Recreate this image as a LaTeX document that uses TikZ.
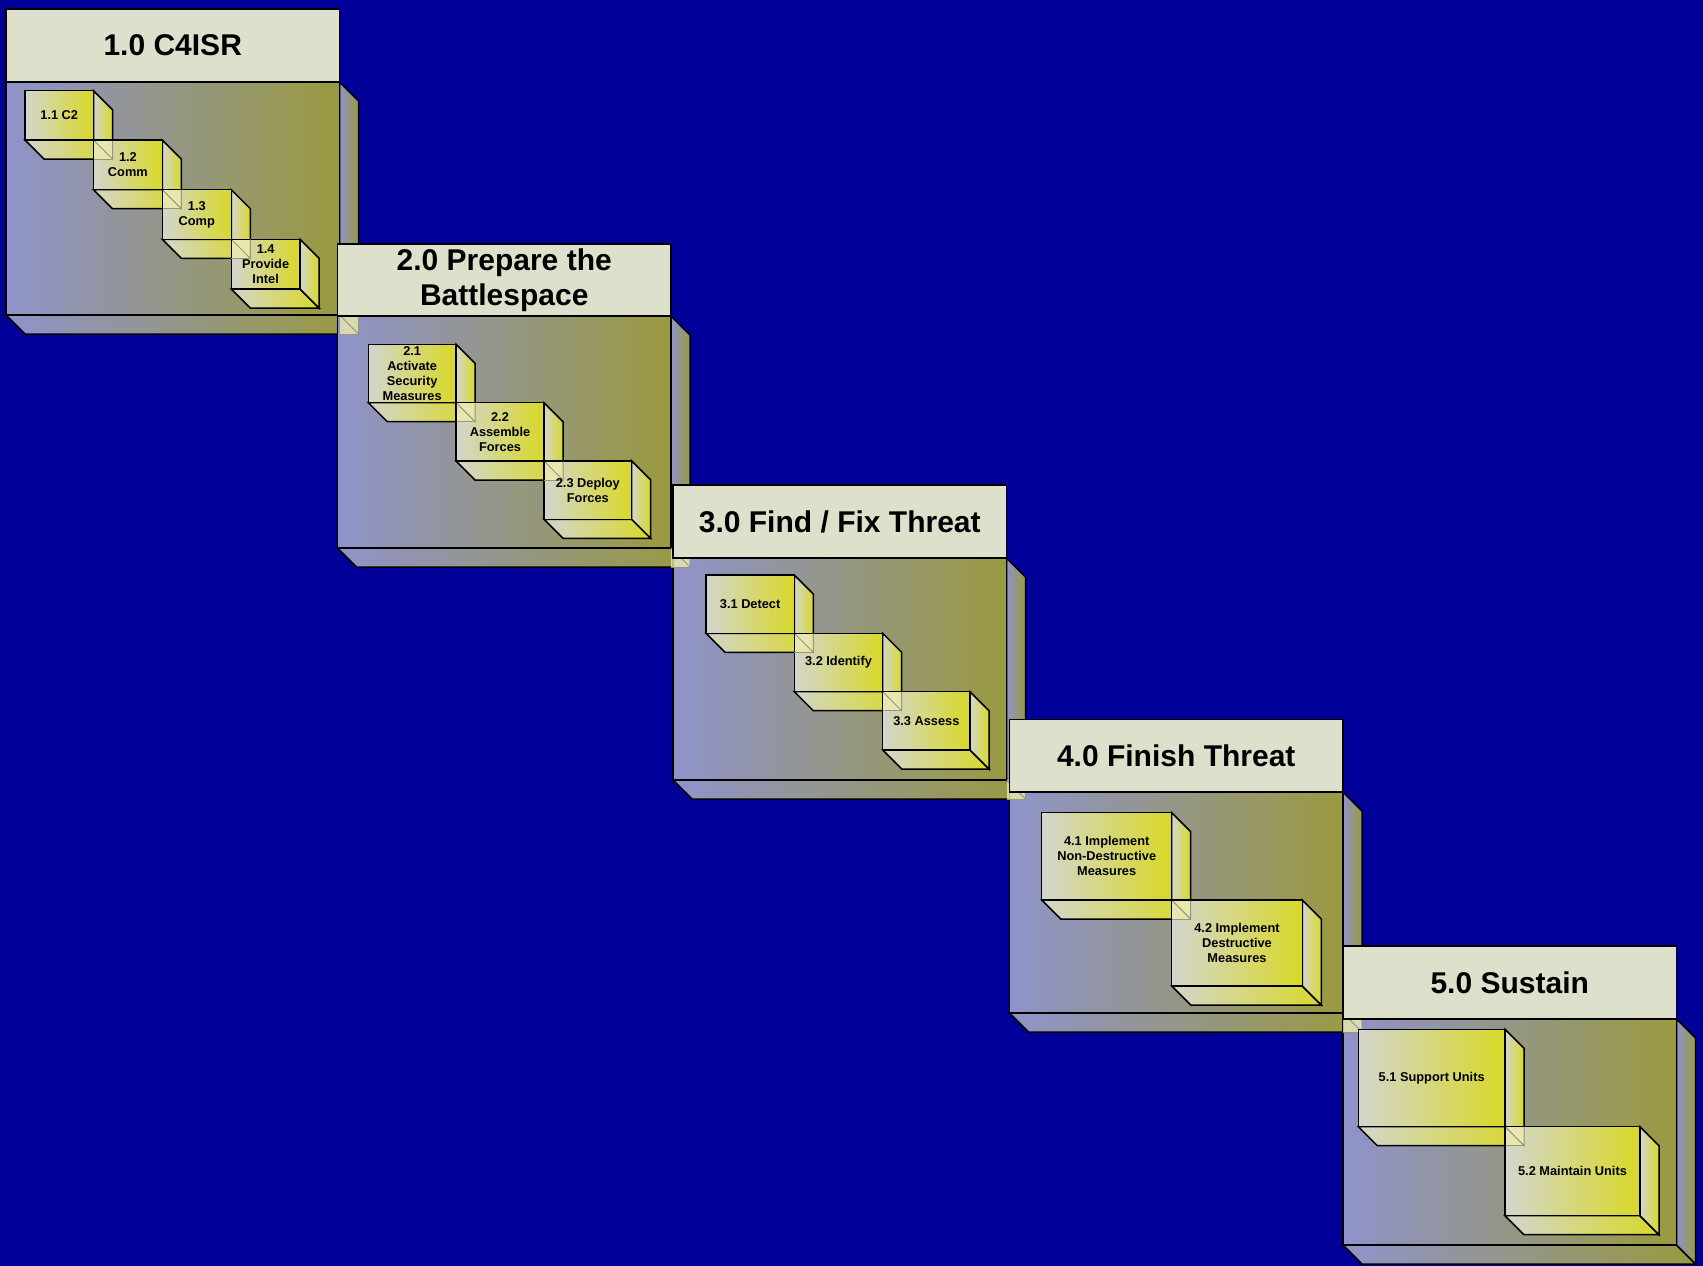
\documentclass[tikz,border=0pt]{standalone}
\usepackage{fontspec}
\setmainfont{Liberation Sans}

\definecolor{navybg}{RGB}{0,0,153}
\definecolor{titlefill}{RGB}{221,225,204}
\definecolor{pkgleft}{RGB}{143,147,203}
\definecolor{pkgright}{RGB}{154,154,64}
\definecolor{subleft}{RGB}{212,214,206}
\definecolor{subright}{RGB}{216,216,40}
\definecolor{patchfill}{RGB}{236,236,172}
\definecolor{patchline}{RGB}{150,150,120}

\tikzset{
  pkgshade/.style={left color=pkgleft, right color=pkgright, draw=black, line width=1.5pt},
  subshade/.style={left color=subleft, right color=subright, draw=black, line width=1.5pt},
  titlebox/.style={fill=titlefill, draw=black, line width=1.5pt},
  titletext/.style={font=\fontsize{30}{35}\selectfont\bfseries, align=center, inner sep=0pt},
  subtext/.style={font=\fontsize{12.8}{15}\selectfont\bfseries, align=center, inner sep=0pt},
  cornerfill/.style={fill=patchfill, fill opacity=0.8},
  cornerline/.style={draw=patchline, line width=1pt},
  edge/.style={draw=black, line width=1.5pt},
}

% body of a package: x0, body top, body bottom (width 333.5, depth 19)
\newcommand\PkgBody[3]{%
  \path[pkgshade] (#1,#3) -- ++(19,19) -- ({#1+352.5},{#3+19}) -- ({#1+333.5},#3) -- cycle;
  \path[pkgshade] ({#1+333.5},#2) -- ++(19,19) -- ({#1+352.5},{#3+19}) -- ({#1+333.5},#3) -- cycle;
  \path[pkgshade] (#1,#2) rectangle ({#1+333.5},#3);
}
% title tab of a package: name, x0, top, bottom, text
\newcommand\PkgTitle[5]{%
  \path[titlebox] (#2,#3) rectangle ({#2+333.5},#4);
  \node[titletext] (#1) at ({#2+166.75},{(#3+#4)/2}) {#5};
}
% extruded sub-box: name, x0, y0, x1, y1
\newcommand\SubBox[5]{%
  \path[subshade] (#2,#5) -- ++(19,19) -- ({#4+19},{#5+19}) -- (#4,#5) -- cycle;
  \path[subshade] (#4,#3) -- ++(19,19) -- ({#4+19},{#5+19}) -- (#4,#5) -- cycle;
  \path[subshade] (#2,#3) rectangle (#4,#5);
  \coordinate (#1-c) at ({(#2+#4)/2},{(#3+#5)/2});
}
% hidden extrusion corner showing through the next box
\newcommand\CornerPatch[2]{%
  \fill[cornerfill] (#1,#2) rectangle ++(19,19);
  \draw[cornerline] (#1,#2) -- ++(19,19) -- ++(0,-19);
  \draw[cornerline] (#1,{#2+19}) -- ++(19,0);
}
\newcommand\SubPatch[2]{%
  \CornerPatch{#1}{#2}
  \draw[edge] (#1,{#2+19}) -- (#1,#2) -- ({#1+19},#2);
}

\begin{document}
\begin{tikzpicture}[x=1pt,y=-1pt]
\useasboundingbox (0,0) rectangle (1703,1266);
\fill[navybg] (0,0) rectangle (1703,1266);

% ---- 1.0 C4ISR
\PkgBody{6}{82}{315}
\PkgTitle{t1}{6}{9}{82}{1.0 C4ISR}
\SubBox{s11}{25}{90.7}{93.5}{140}
\SubBox{s12}{93.5}{140}{162.3}{189.7}
\SubBox{s13}{162.3}{189.7}{231.3}{239.3}
\SubBox{s14}{231.3}{239.3}{300}{289}
\SubPatch{93.5}{140}
\SubPatch{162.3}{189.7}
\SubPatch{231.3}{239.3}
\node[subtext] (s11) at (s11-c) {1.1 C2};
\node[subtext] (s12) at (s12-c) {1.2\\Comm};
\node[subtext] (s13) at (s13-c) {1.3\\Comp};
\node[subtext] (s14) at (s14-c) {1.4\\Provide\\Intel};

% ---- 2.0 Prepare the Battlespace
\PkgBody{337.5}{316}{548}
\CornerPatch{339.5}{315}
\PkgTitle{t2}{337.5}{244}{316}{2.0 Prepare the\\Battlespace}
\SubBox{s21}{368.3}{344.3}{456}{402.7}
\SubBox{s22}{456}{402.7}{544}{461}
\SubBox{s23}{544}{461}{631.7}{519.3}
\SubPatch{456}{402.7}
\SubPatch{544}{461}
\node[subtext] (s21) at (s21-c) {2.1\\Activate\\Security\\Measures};
\node[subtext] (s22) at (s22-c) {2.2\\Assemble\\Forces};
\node[subtext] (s23) at (s23-c) {2.3 Deploy\\Forces};

% ---- 3.0 Find / Fix Threat
\PkgBody{673}{558}{780}
\CornerPatch{671}{548}
\PkgTitle{t3}{673}{485}{558}{3.0 Find / Fix Threat}
\SubBox{s31}{706}{575}{794.3}{633.3}
\SubBox{s32}{794.3}{633.3}{882.7}{691.7}
\SubBox{s33}{882.7}{691.7}{970}{750}
\SubPatch{794.3}{633.3}
\SubPatch{882.7}{691.7}
\node[subtext] (s31) at (s31-c) {3.1 Detect};
\node[subtext] (s32) at (s32-c) {3.2 Identify};
\node[subtext] (s33) at (s33-c) {3.3 Assess};

% ---- 4.0 Finish Threat
\PkgBody{1009.5}{792}{1013}
\CornerPatch{1006.5}{780}
\PkgTitle{t4}{1009.5}{719.5}{792}{4.0 Finish Threat}
\SubBox{s41}{1041.7}{812.7}{1171.7}{900}
\SubBox{s42}{1171.7}{900}{1302.3}{986}
\SubPatch{1171.7}{900}
\node[subtext] (s41) at (s41-c) {4.1 Implement\\Non-Destructive\\Measures};
\node[subtext] (s42) at (s42-c) {4.2 Implement\\Destructive\\Measures};

% ---- 5.0 Sustain
\PkgBody{1343}{1019}{1245}
\CornerPatch{1343}{1013}
\PkgTitle{t5}{1343}{946}{1019}{5.0 Sustain}
\SubBox{s51}{1358.3}{1029.3}{1505}{1126.7}
\SubBox{s52}{1505}{1126.7}{1640}{1215.7}
\SubPatch{1505}{1126.7}
\node[subtext] (s51) at (s51-c) {5.1 Support Units};
\node[subtext] (s52) at (s52-c) {5.2 Maintain Units};
\end{tikzpicture}
\end{document}
